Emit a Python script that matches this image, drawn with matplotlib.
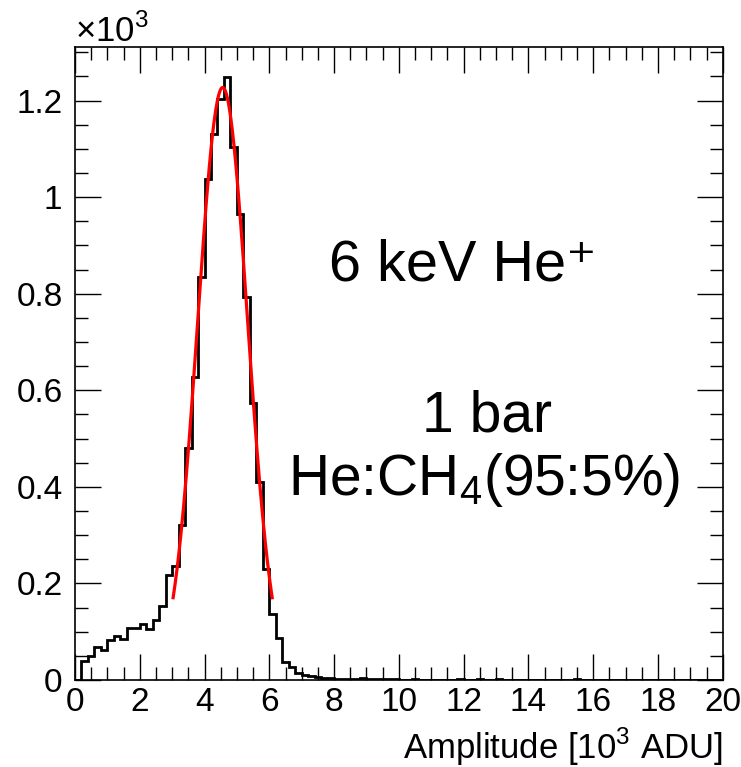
import numpy as np
import matplotlib
matplotlib.use('Agg')
import matplotlib.pyplot as plt
from matplotlib.ticker import MultipleLocator, FuncFormatter

plt.rcParams['font.family'] = ['Liberation Sans', 'DejaVu Sans']
plt.rcParams['mathtext.fontset'] = 'custom'
plt.rcParams['mathtext.rm'] = 'Liberation Sans'

# histogram: 100 bins of 0.2 (x10^3 ADU) from 0 to 20, counts per bin
bin_lo = 0.0
bin_hi = 20.0
counts = [0, 40, 50, 69, 62, 83, 92, 84, 107, 107,
          115, 105, 125, 153, 218, 236, 322, 480, 628, 835,
          1037, 1130, 1204, 1249, 1103, 966, 793, 574, 409, 230,
          137, 88, 38, 27, 15, 10, 8, 6, 4, 4,
          3, 3, 3, 3, 4, 3, 3, 2, 2, 2,
          1, 1, 2, 1, 1, 1, 1, 1, 1, 2,
          1, 1, 2, 1, 1, 2, 1, 1, 1, 1,
          1, 1, 1, 1, 1, 1, 1, 2, 1, 1,
          1, 1, 1, 1, 1, 1, 1, 1, 1, 1,
          1, 1, 1, 1, 1, 1, 0, 1, 0, 0]

# gaussian fit (constant in counts, mean, sigma) and its range
fit_const = 1227
fit_mean = 4.56
fit_sigma = 0.77
fit_lo = 3.03
fit_hi = 6.09

counts = np.array(counts) / 1000.0
edges = np.linspace(bin_lo, bin_hi, len(counts) + 1)

fig = plt.figure(figsize=(7.41, 7.67), dpi=100)
ax = fig.add_axes([75 / 741, 1 - 680 / 767, 647.7 / 741, 633.3 / 767])

ax.stairs(counts, edges, color='black', linewidth=2.0, baseline=0)

xf = np.linspace(fit_lo, fit_hi, 200)
yf = fit_const * np.exp(-0.5 * ((xf - fit_mean) / fit_sigma) ** 2) / 1000.0
ax.plot(xf, yf, color='red', linewidth=2.3)

ax.set_xlim(bin_lo, bin_hi)
ax.set_ylim(0, counts.max() * 1.05)

ax.xaxis.set_major_locator(MultipleLocator(2))
ax.xaxis.set_minor_locator(MultipleLocator(0.5))
ax.yaxis.set_major_locator(MultipleLocator(0.2))
ax.yaxis.set_minor_locator(MultipleLocator(0.05))
ax.yaxis.set_major_formatter(FuncFormatter(lambda v, p: '%g' % round(v, 3)))

ax.tick_params(which='both', direction='in', top=True, right=True,
               labelsize=24, width=1.0)
ax.tick_params(which='major', length=19)
ax.tick_params(which='minor', length=9.5)
ax.tick_params(axis='x', pad=5)
ax.tick_params(axis='y', pad=9)
for s in ax.spines.values():
    s.set_linewidth(1.2)

ax.set_xlabel('Amplitude [10$^{3}$ ADU]', fontsize=25, loc='right', labelpad=6)

fig.text(75 / 741, 1 - 42 / 767, r'$\times$10$^{3}$', fontsize=25, ha='left', va='baseline')

ax.text(0.598, 1 - (280 - 46.7) / 633.3, '6 keV He\u207a', transform=ax.transAxes,
        fontsize=41.5, ha='center', va='baseline')
ax.text(0.636, 1 - (431 - 46.7) / 633.3, '1 bar', transform=ax.transAxes,
        fontsize=41, ha='center', va='baseline')
ax.text(0.632, 1 - (495 - 46.7) / 633.3, 'He:CH$_{4}$(95:5%)', transform=ax.transAxes,
        fontsize=41, ha='center', va='baseline')

fig.savefig('out.png', dpi=100)
